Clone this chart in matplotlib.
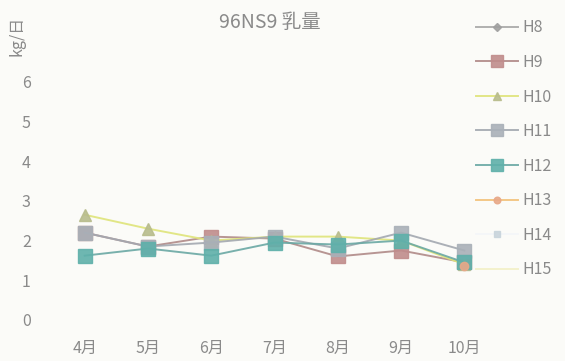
import numpy as np
import matplotlib
matplotlib.use("Agg")
import matplotlib.pyplot as plt

plt.rcParams['font.family'] = ['Noto Sans CJK JP', 'DejaVu Sans']

months = ['4月', '5月', '6月', '7月', '8月', '9月', '10月']
nan = np.nan
h8 = [nan] * 7
h9 = [2.2, 1.85, 2.1, 2.05, 1.6, 1.75, 1.45]
h10 = [2.65, 2.3, 2.0, 2.1, 2.1, 2.0, 1.4]
h11 = [2.2, 1.85, 1.95, 2.1, 1.8, 2.2, 1.75]
h12 = [1.62, 1.8, 1.62, 1.95, 1.9, 2.0, 1.45]
h13 = [nan, nan, nan, nan, nan, nan, 1.35]
h14 = [nan] * 7
h15 = [nan] * 7

series = [
    ('H8', h8, '#a8a8a8', 'D', '#a0a0a0', 5),
    ('H9', h9, '#b08a88', 's', '#c08c8c', 10),
    ('H10', h10, '#dfe47a', '^', '#b8bc8c', 8),
    ('H11', h11, '#a3a8b0', 's', '#a9b0b8', 10),
    ('H12', h12, '#6aa8a4', 's', '#5fb0aa', 10),
    ('H13', h13, '#f2c27a', 'o', '#e8a888', 6),
    ('H14', h14, '#f4f6f8', 's', '#c8d4dc', 5),
    ('H15', h15, '#f2f0c8', '', '#f2f0c8', 5),
]

fig = plt.figure(figsize=(5.65, 3.61), dpi=100)
fig.patch.set_facecolor('#fbfbf8')
ax = fig.add_axes([53 / 565, 41 / 361, 443 / 565, 278 / 361])
ax.set_facecolor('#fbfbf8')

x = np.arange(len(months))
for name, vals, lc, mk, mc, ms in series:
    ax.plot(x, vals, color=lc, lw=1.4, marker=mk if mk else None, markersize=ms,
            markerfacecolor=mc, markeredgecolor=mc, alpha=0.9, label=name)

ax.set_xlim(-0.5, 6.5)
ax.set_ylim(0, 7)
ax.set_xticks(x)
ax.set_xticklabels(months)
ax.set_yticks(range(0, 7))
ax.tick_params(length=0, colors='#8a8a8a', labelsize=11.5)
ax.tick_params(axis='y', pad=16)
ax.tick_params(axis='x', pad=14)
for s in ax.spines.values():
    s.set_visible(False)

fig.text(270 / 565, 1 - 22 / 361, '96NS9 乳量', ha='center', va='center',
         fontsize=14, color='#8a8a8a')
fig.text(17 / 565, 1 - 36 / 361, 'kg/日', rotation=90, ha='center', va='center',
         fontsize=11.5, color='#8a8a8a')

leg = fig.legend(loc='upper left', bbox_to_anchor=(462 / 565, 1 - 5 / 361), frameon=False,
                 labelspacing=1.1, handlelength=2.6, handletextpad=0.3, fontsize=11.5,
                 labelcolor='#8a8a8a', markerscale=0.8)

fig.savefig('out.png', dpi=100, facecolor=fig.get_facecolor())
